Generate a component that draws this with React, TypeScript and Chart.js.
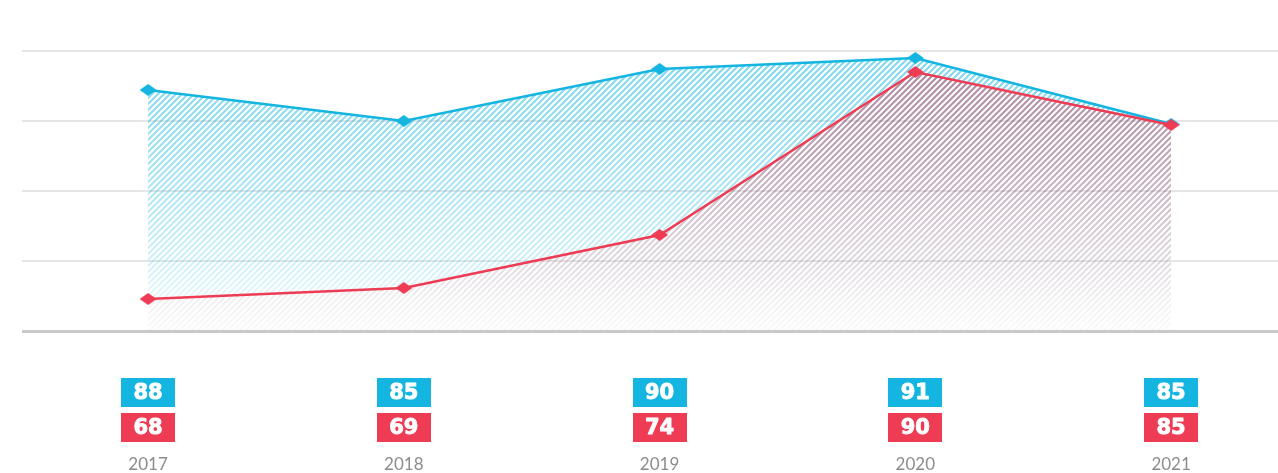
import React, { useEffect, useRef } from "react";
import { Chart, registerables } from "chart.js";

Chart.register(...registerables);

// ---- data ----
const years = ["2017", "2018", "2019", "2020", "2021"];
const blueLabels = [88, 85, 90, 91, 85];
const redLabels = [68, 69, 74, 90, 85];
const bluePlotted = [88.1, 85.0, 90.2, 91.3, 84.7];
const redPlotted = [67.2, 68.3, 73.6, 89.9, 84.6];
const yTicks = [64, 71, 78, 85, 92];

// ---- style ----
const BLUE = "#14b5e1";
const RED = "#ee3c54";
const W = 1278;
const H = 473;

function makeDiamond(color: string, w: number, h: number) {
  const c = document.createElement("canvas");
  c.width = w;
  c.height = h;
  const g = c.getContext("2d")!;
  g.fillStyle = color;
  g.beginPath();
  g.moveTo(w / 2, 0);
  g.lineTo(w, h / 2);
  g.lineTo(w / 2, h);
  g.lineTo(0, h / 2);
  g.closePath();
  g.fill();
  return c;
}

const patternCache: Record<string, CanvasPattern | null> = {};

function makeHatch(chart: any, name: string, stops: [number, string][]) {
  const area = chart.chartArea;
  const cw = chart.canvas.width;
  const ch = chart.canvas.height;
  const key = `${name}-${area.top}-${area.bottom}-${cw}-${ch}`;
  if (patternCache[key]) return patternCache[key];
  const off = document.createElement("canvas");
  off.width = cw;
  off.height = ch;
  const g = off.getContext("2d")!;
  g.strokeStyle = "#000";
  g.lineWidth = 2.1;
  const period = 6;
  for (let x = -ch; x < cw + ch; x += period) {
    g.beginPath();
    g.moveTo(x, ch);
    g.lineTo(x + ch, 0);
    g.stroke();
  }
  g.globalCompositeOperation = "source-in";
  const grad = g.createLinearGradient(0, area.top, 0, area.bottom);
  stops.forEach(([o, c]) => grad.addColorStop(o, c));
  g.fillStyle = grad;
  g.fillRect(0, 0, cw, ch);
  const p = chart.ctx.createPattern(off, "no-repeat");
  patternCache[key] = p;
  return p;
}

const blueStops: [number, string][] = [
  [0, "rgba(20,181,225,0.55)"],
  [0.35, "rgba(20,181,225,0.42)"],
  [0.75, "rgba(20,181,225,0.2)"],
  [1, "rgba(20,181,225,0.03)"],
];
const redStops: [number, string][] = [
  [0, "rgba(120,55,95,0.64)"],
  [0.4, "rgba(120,70,105,0.47)"],
  [0.75, "rgba(145,120,145,0.28)"],
  [1, "rgba(190,190,200,0.08)"],
];

function drawBox(ctx: CanvasRenderingContext2D, cx: number, top: number, color: string, text: string) {
  const bw = 54;
  const bh = 29;
  ctx.fillStyle = color;
  ctx.fillRect(Math.round(cx - bw / 2), top, bw, bh);
  ctx.fillStyle = "#ffffff";
  ctx.strokeStyle = "#ffffff";
  ctx.lineWidth = 0.9;
  ctx.lineJoin = "round";
  ctx.font = "bold 21px 'DejaVu Sans'";
  ctx.textAlign = "center";
  ctx.textBaseline = "middle";
  ctx.fillText(text, cx, top + bh / 2 + 1);
  ctx.strokeText(text, cx, top + bh / 2 + 1);
}

const boxesPlugin = {
  id: "valueBoxes",
  afterDraw(chart: any) {
    const { ctx, chartArea, scales } = chart;
    const xs = scales.x;
    ctx.save();
    years.forEach((yr, i) => {
      const cx = xs.getPixelForValue(i);
      drawBox(ctx, cx, chartArea.bottom + 47, BLUE, String(blueLabels[i]));
      drawBox(ctx, cx, chartArea.bottom + 82, RED, String(redLabels[i]));
      ctx.fillStyle = "#8c8c8c";
      ctx.font = "400 17px Lato";
      ctx.textAlign = "center";
      ctx.textBaseline = "middle";
      ctx.fillText(yr, cx, chartArea.bottom + 134);
    });
    ctx.restore();
  },
};

export default function App() {
  const ref = useRef<HTMLCanvasElement | null>(null);

  useEffect(() => {
    if (!ref.current) return;
    const blueDiamond = makeDiamond(BLUE, 17, 12);
    const redDiamond = makeDiamond(RED, 17, 12);
    const chart = new Chart(ref.current, {
      type: "line",
      data: {
        datasets: [
          {
            label: "A",
            data: bluePlotted.map((y, i) => ({ x: i, y })),
            borderColor: BLUE,
            borderWidth: 2.5,
            backgroundColor: (c: any) =>
              c.chart.chartArea ? makeHatch(c.chart, "blue", blueStops) : "rgba(0,0,0,0)",
            fill: 1,
            tension: 0,
            pointStyle: blueDiamond as any,
            pointRadius: 7,
            order: 2,
          },
          {
            label: "B",
            data: redPlotted.map((y, i) => ({ x: i, y })),
            borderColor: RED,
            borderWidth: 2.5,
            backgroundColor: (c: any) =>
              c.chart.chartArea ? makeHatch(c.chart, "red", redStops) : "rgba(0,0,0,0)",
            fill: "start",
            tension: 0,
            pointStyle: redDiamond as any,
            pointRadius: 7,
            order: 1,
          },
        ],
      },
      options: {
        animation: false,
        responsive: false,
        events: [],
        layout: { autoPadding: false, padding: { top: 51, left: 22, right: 0, bottom: 142 } },
        plugins: {
          legend: { display: false },
          tooltip: { enabled: false },
        },
        scales: {
          x: {
            type: "linear",
            display: false,
            min: -0.493,
            max: 4.418,
          },
          y: {
            type: "linear",
            min: yTicks[0],
            max: yTicks[yTicks.length - 1],
            afterBuildTicks: (scale: any) => {
              scale.ticks = yTicks.map((v) => ({ value: v }));
            },
            border: { display: false },
            ticks: { display: false },
            grid: {
              drawTicks: false,
              color: (c: any) => (c.tick && c.tick.value === yTicks[0] ? "#c9c9c9" : "#e6e6e6"),
              lineWidth: (c: any) => (c.tick && c.tick.value === yTicks[0] ? 3 : 2),
            },
          },
        },
      },
      plugins: [boxesPlugin],
    });
    return () => chart.destroy();
  }, []);

  return (
    <div style={{ position: "fixed", left: 0, top: 0, width: W, height: H, background: "#fff" }}>
      <canvas ref={ref} width={W} height={H} style={{ display: "block" }} />
    </div>
  );
}
